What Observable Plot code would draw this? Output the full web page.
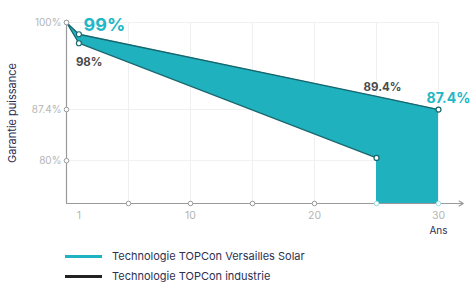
<!DOCTYPE html>
<html>
<head>
<meta charset="utf-8">
<script src="https://cdn.jsdelivr.net/npm/d3@7"></script>
<script src="https://cdn.jsdelivr.net/npm/@observablehq/plot@0.6"></script>
<style>
  html, body { margin: 0; padding: 0; background: #fff; }
  body { width: 473px; height: 282px; overflow: hidden; font-family: Inter, "Open Sans", sans-serif; }
  #legend { position: relative; height: 42px; }
  .item { position: absolute; left: 65px; display: flex; align-items: center; font-size: 11px; line-height: 13px; color: #2d3052; }
  .swatch { width: 37px; height: 3px; margin-right: 10px; }
</style>
</head>
<body>
<div id="chart"></div>
<div id="legend"></div>
<script>
// Data
const seriesNames = ["Technologie TOPCon Versailles Solar", "Technologie TOPCon industrie"];
const seriesColors = ["#1fb3c1", "#222222"];
const versaillesYears = [0, 1, 25, 30];
const versaillesValues = [100, 98.3, 89.3, 87.4];
const industrieYears = [0, 1, 25];
const industrieValues = [100, 97.0, 80.4];
const xTickLabels = [1, 10, 20, 30];
const xMarkers = [5, 10, 15, 20, 25, 30];
const yTicks = [100, 87.4, 80];
const yTickLabels = ["100%", "87.4%", "80%"];
const yMin = 73.8;
const annotations = [
  {x: 0, y: 100, text: "99%"},
  {x: 1, y: 97.0, text: "98%"},
  {x: 25, y: 89.3, text: "89.4%"},
  {x: 30, y: 87.4, text: "87.4%"}
];

// Area between the two curves; after year 25 it drops to the axis
const areaData = [];
for (let i = 0; i < industrieYears.length; i++) {
  areaData.push({x: versaillesYears[i], top: versaillesValues[i], bottom: industrieValues[i]});
}
areaData.push({x: versaillesYears[2], top: versaillesValues[2], bottom: yMin});
areaData.push({x: versaillesYears[3], top: versaillesValues[3], bottom: yMin});

const vers = versaillesYears.map((x, i) => ({x, y: versaillesValues[i]}));
const ind = industrieYears.map((x, i) => ({x, y: industrieValues[i]}));
const yt = yTicks.map((y, i) => ({y, label: yTickLabels[i]}));

const font = "Inter, 'Open Sans', sans-serif";
const teal = "#1fb1be";
const darkTeal = "#17666d";

const plot = Plot.plot({
  width: 473,
  height: 240,
  marginLeft: 66,
  marginRight: 35,
  marginTop: 22,
  marginBottom: 37,
  style: {fontFamily: font, background: "#fff"},
  x: {domain: [0, 30], axis: null},
  y: {domain: [yMin, 100], axis: null},
  marks: [
    // grid
    Plot.ruleX(xMarkers, {y1: yMin, y2: 100, stroke: "#eef0f2", strokeWidth: 1}),
    Plot.ruleY(yTicks, {x1: 0, x2: 30, stroke: "#eef0f2", strokeWidth: 1}),
    // area
    Plot.areaY(areaData, {x: "x", y1: "bottom", y2: "top", fill: teal, fillOpacity: 1}),
    Plot.line(vers, {x: "x", y: "y", stroke: darkTeal, strokeWidth: 1.3}),
    Plot.line(ind, {x: "x", y: "y", stroke: darkTeal, strokeWidth: 1.3}),
    // axes
    Plot.ruleX([0], {y1: yMin, y2: 100, stroke: "#9a9a9a", strokeWidth: 1.2}),
    Plot.arrow([{}], {x1: 0, x2: 32, y1: yMin, y2: yMin, stroke: "#9a9a9a", strokeWidth: 1.2, headLength: 6}),
    Plot.dot(xMarkers, {x: d => d, y: yMin, r: 2.3, fill: "#fff", stroke: d => d >= 25 ? "#9fdde3" : "#9a9a9a", strokeWidth: 1}),
    Plot.dot(yt, {x: 0, y: "y", r: 2.3, fill: "#fff", stroke: "#9a9a9a", strokeWidth: 1}),
    Plot.text(yt, {x: 0, y: "y", text: "label", textAnchor: "end", dx: -5, fontSize: 10, fill: "#b5b5b5"}),
    Plot.text(xTickLabels, {x: d => d, y: yMin, text: d => String(d), dy: 12, fontSize: 10.5, fill: "#b5b5b5"}),
    Plot.text(["Ans"], {x: 30, y: yMin, text: d => d, dy: 27, fontSize: 10, fill: "#2d3052"}),
    // data points
    Plot.dot([vers[1], ind[1], ind[2], vers[3]], {x: "x", y: "y", r: 2.5, fill: "#fff", stroke: darkTeal, strokeWidth: 1.2}),
    Plot.dot([vers[0]], {x: "x", y: "y", r: 2.3, fill: "#fff", stroke: "#9a9a9a", strokeWidth: 1}),
    // annotations
    Plot.text([annotations[0]], {x: "x", y: "y", text: "text", textAnchor: "start", dx: 17, dy: 3, fontSize: 18, fontWeight: "bold", fill: "#22b6c6"}),
    Plot.text([annotations[1]], {x: "x", y: "y", text: "text", textAnchor: "start", dx: -3, dy: 19, fontSize: 11.5, fontWeight: "bold", fill: "#4a4a4a"}),
    Plot.text([annotations[2]], {x: "x", y: "y", text: "text", dx: 6, dy: -9, fontSize: 11.5, fontWeight: "bold", fill: "#4a4a4a"}),
    Plot.text([annotations[3]], {x: "x", y: "y", text: "text", dx: 10, dy: -11, fontSize: 14, fontWeight: "bold", fill: "#22b6c6"}),
    // y title
    Plot.text(["Garantie puissance"], {frameAnchor: "left", text: d => d, textAnchor: "middle", rotate: -90, dx: -54, fontSize: 11, fill: "#2d3052"})
  ]
});
document.getElementById("chart").appendChild(plot);

const legend = document.getElementById("legend");
seriesNames.forEach((name, i) => {
  const item = document.createElement("div");
  item.className = "item";
  item.style.top = (10 + i * 20) + "px";
  const sw = document.createElement("div");
  sw.className = "swatch";
  sw.style.background = seriesColors[i];
  const label = document.createElement("span");
  label.textContent = name;
  item.appendChild(sw);
  item.appendChild(label);
  legend.appendChild(item);
});
</script>
</body>
</html>
